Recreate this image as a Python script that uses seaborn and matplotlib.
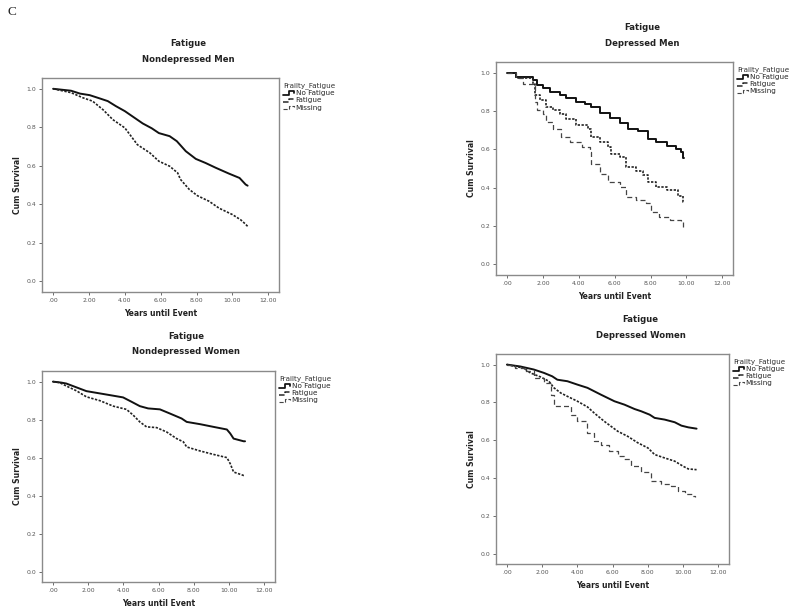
import numpy as np
import pandas as pd
import seaborn as sns
import matplotlib
matplotlib.use("Agg")
import matplotlib.pyplot as plt
from matplotlib.lines import Line2D
from matplotlib.legend_handler import HandlerLine2D

# --- data (years, cum survival) ---
groups = ["No Fatigue", "Fatigue", "Missing"]
x_ticks = [0, 2, 4, 6, 8, 10, 12]
x_tick_labels = [".00", "2.00", "4.00", "6.00", "8.00", "10.00", "12.00"]
y_ticks = [0.0, 0.2, 0.4, 0.6, 0.8, 1.0]
y_tick_labels = ["0.0", "0.2", "0.4", "0.6", "0.8", "1.0"]

# Nondepressed men
ndm_nofat_t = [0, 0.5, 1.0, 1.5, 2.04, 2.6, 3.05, 3.5, 4.0, 4.5, 5.0, 5.5, 5.9, 6.5, 6.9,
               7.4, 7.96, 8.5, 9.07, 9.8, 10.4, 10.74, 10.85]
ndm_nofat_s = [1.0, 0.995, 0.99, 0.975, 0.967, 0.95, 0.936, 0.91, 0.884, 0.852, 0.82, 0.795, 0.77,
               0.754, 0.728, 0.676, 0.636, 0.615, 0.59, 0.56, 0.537, 0.503, 0.497]
ndm_fat_t = [0, 0.5, 1.0, 1.67, 2.2, 2.8, 3.33, 4.0, 4.3, 4.7, 5.4, 5.9, 6.5, 6.95, 7.1, 7.6,
             8.05, 8.7, 9.26, 10.0, 10.46, 10.7, 10.85]
ndm_fat_s = [1.0, 0.99, 0.98, 0.953, 0.936, 0.89, 0.84, 0.797, 0.76, 0.71, 0.667, 0.624, 0.598,
             0.563, 0.53, 0.477, 0.445, 0.416, 0.38, 0.347, 0.32, 0.3, 0.286]

# Depressed men
dm_nofat_t = [0, 0.52, 1.45, 1.64, 2.0, 2.38, 2.94, 3.3, 3.87, 4.33, 4.7, 5.17, 5.72, 6.28,
              6.75, 7.3, 7.86, 8.33, 8.9, 9.44, 9.72, 9.81, 9.85]
dm_nofat_s = [1.0, 0.98, 0.96, 0.934, 0.92, 0.9, 0.882, 0.868, 0.847, 0.835, 0.82, 0.79, 0.764,
              0.738, 0.708, 0.694, 0.656, 0.638, 0.618, 0.604, 0.587, 0.556, 0.556]
dm_fat_t = [0, 0.52, 1.45, 1.54, 1.82, 2.19, 2.56, 2.94, 3.3, 3.87, 4.5, 4.7, 5.17, 5.63, 5.82,
            6.28, 6.65, 7.2, 7.58, 7.86, 8.33, 8.9, 9.54, 9.81, 9.85]
dm_fat_s = [1.0, 0.97, 0.943, 0.882, 0.856, 0.82, 0.804, 0.786, 0.76, 0.726, 0.708, 0.665, 0.64,
            0.613, 0.578, 0.56, 0.509, 0.49, 0.465, 0.43, 0.405, 0.387, 0.356, 0.327, 0.327]
dm_mis_t = [0, 0.52, 0.9, 1.45, 1.54, 1.64, 2.0, 2.19, 2.56, 3.03, 3.5, 4.15, 4.6, 4.7, 5.17,
            5.63, 6.28, 6.65, 7.2, 7.76, 8.05, 8.5, 9.07, 9.72, 9.81, 9.85]
dm_mis_s = [1.0, 0.97, 0.943, 0.934, 0.847, 0.804, 0.786, 0.743, 0.708, 0.665, 0.64, 0.613,
            0.587, 0.526, 0.474, 0.43, 0.405, 0.352, 0.335, 0.318, 0.274, 0.248, 0.231, 0.222,
            0.187, 0.187]

# Nondepressed women
ndw_nofat_t = [0, 0.47, 0.76, 1.33, 1.9, 2.66, 3.42, 3.98, 4.46, 4.93, 5.4, 6.07, 6.64, 7.3,
               7.59, 8.35, 9.1, 9.87, 10.06, 10.25, 10.82, 10.9]
ndw_nofat_s = [1.0, 0.995, 0.99, 0.97, 0.95, 0.938, 0.926, 0.917, 0.894, 0.871, 0.859, 0.854,
               0.832, 0.806, 0.788, 0.776, 0.762, 0.748, 0.727, 0.7, 0.686, 0.686]
ndw_fat_t = [0, 0.38, 0.76, 1.33, 1.9, 2.66, 3.42, 4.17, 4.55, 4.93, 5.31, 5.88, 6.45, 7.02,
             7.4, 7.59, 8.35, 9.1, 9.87, 10.06, 10.25, 10.82, 10.9]
ndw_fat_s = [1.0, 0.995, 0.977, 0.952, 0.92, 0.9, 0.871, 0.854, 0.824, 0.788, 0.762, 0.758,
             0.735, 0.7, 0.683, 0.656, 0.635, 0.617, 0.6, 0.568, 0.524, 0.506, 0.506]

# Depressed women
dw_nofat_t = [0, 0.76, 1.52, 2.1, 2.57, 2.86, 3.43, 4.0, 4.57, 5.33, 6.1, 6.67, 7.24, 7.62,
              8.1, 8.38, 8.95, 9.52, 9.9, 10.29, 10.76]
dw_nofat_s = [1.0, 0.99, 0.974, 0.956, 0.938, 0.92, 0.912, 0.894, 0.877, 0.841, 0.806, 0.788,
              0.765, 0.753, 0.735, 0.718, 0.709, 0.695, 0.677, 0.668, 0.661]
dw_fat_t = [0, 0.48, 0.95, 1.33, 1.9, 2.38, 2.67, 3.05, 3.43, 4.0, 4.57, 4.95, 5.52, 6.29,
            6.86, 7.43, 8.0, 8.38, 8.95, 9.52, 10.0, 10.29, 10.76]
dw_fat_s = [1.0, 0.99, 0.982, 0.956, 0.935, 0.912, 0.877, 0.85, 0.832, 0.806, 0.776, 0.744,
            0.7, 0.647, 0.62, 0.586, 0.559, 0.524, 0.506, 0.489, 0.462, 0.448, 0.444]
dw_mis_t = [0, 0.48, 0.95, 1.52, 2.1, 2.48, 2.67, 3.24, 3.62, 4.0, 4.57, 4.95, 5.33, 5.81,
            6.29, 6.67, 7.05, 7.62, 8.19, 8.76, 9.33, 9.71, 10.1, 10.57, 10.65]
dw_mis_s = [1.0, 0.982, 0.965, 0.93, 0.903, 0.841, 0.783, 0.78, 0.735, 0.7, 0.638, 0.594,
            0.577, 0.541, 0.515, 0.501, 0.462, 0.43, 0.383, 0.369, 0.356, 0.33, 0.316, 0.303,
            0.3]

# (subtitle, curves, which curves show coarse steps)
panels = [
    ("Nondepressed Men", {"No Fatigue": (ndm_nofat_t, ndm_nofat_s), "Fatigue": (ndm_fat_t, ndm_fat_s)}, []),
    ("Depressed Men", {"No Fatigue": (dm_nofat_t, dm_nofat_s), "Fatigue": (dm_fat_t, dm_fat_s),
                       "Missing": (dm_mis_t, dm_mis_s)}, groups),
    ("Nondepressed Women", {"No Fatigue": (ndw_nofat_t, ndw_nofat_s), "Fatigue": (ndw_fat_t, ndw_fat_s)}, []),
    ("Depressed Women", {"No Fatigue": (dw_nofat_t, dw_nofat_s), "Fatigue": (dw_fat_t, dw_fat_s),
                         "Missing": (dw_mis_t, dw_mis_s)}, ["Missing"]),
]

# axes boxes in pixels (left, top, right, bottom) on the 800x612 canvas
W, H = 800, 612
boxes = [(42, 78, 279, 292), (496, 62, 733, 275), (42, 371, 275, 582), (496, 354, 729, 564)]

palette = {"No Fatigue": "#111111", "Fatigue": "#222222", "Missing": "#444444"}
dashes = {"No Fatigue": "", "Fatigue": (1.4, 0.9), "Missing": (4.0, 2.5)}
widths = {"No Fatigue": 1.4, "Fatigue": 1.2, "Missing": 0.9}


class StepHandler(HandlerLine2D):
    # SPSS style little step glyph in the legend
    def create_artists(self, legend, orig_handle, xdescent, ydescent, width, height, fontsize, trans):
        x0 = -xdescent
        y0 = -ydescent
        xs = [x0, x0 + width * 0.45, x0 + width * 0.45, x0 + width * 0.9, x0 + width * 0.9]
        ys = [y0 + height * 0.1, y0 + height * 0.1, y0 + height * 0.75, y0 + height * 0.75, y0 + height * 0.45]
        ln = Line2D(xs, ys, color=orig_handle.get_color(), lw=orig_handle.get_linewidth(),
                    linestyle=orig_handle.get_linestyle())
        ln.set_transform(trans)
        return [ln]


sns.set_style("white")
plt.rcParams['font.family'] = ['DejaVu Sans']
fig = plt.figure(figsize=(8, 6.12), dpi=100)
fig.patch.set_facecolor("white")

for (subtitle, curves, stepped), (l, t, r, b) in zip(panels, boxes):
    ax = fig.add_axes([l / W, 1 - b / H, (r - l) / W, (b - t) / H])
    rows = []
    for g, (ts, ss) in curves.items():
        rows.append(pd.DataFrame({"years": ts, "surv": ss, "group": g}))
    df = pd.concat(rows, ignore_index=True)
    for g in curves:
        sub = df[df.group == g]
        ds = "steps-post" if g in stepped else "default"
        sns.lineplot(data=sub, x="years", y="surv", ax=ax, color=palette[g], lw=widths[g],
                     estimator=None, sort=False, drawstyle=ds,
                     dashes=False, legend=False)
        if dashes[g]:
            ax.lines[-1].set_dashes(dashes[g])
    ax.set_xlim(-0.62, 12.6)
    ax.set_ylim(-0.055, 1.056)
    ax.set_xticks(x_ticks)
    ax.set_xticklabels(x_tick_labels)
    ax.set_yticks(y_ticks)
    ax.set_yticklabels(y_tick_labels)
    ax.tick_params(axis="both", labelsize=4.4, colors="#555555", length=2.5, width=0.6,
                   direction="out", bottom=True, left=True, pad=1.5)
    ax.set_xlabel("")
    ax.set_ylabel("")
    for sp in ax.spines.values():
        sp.set_color("#8a8a8a")
        sp.set_linewidth(1.0)

    # legend with all three levels, as SPSS always lists them
    handles = []
    for g in groups:
        h = Line2D([], [], color=palette[g], lw=widths[g] * 0.9)
        if dashes[g]:
            h.set_dashes(dashes[g])
        handles.append(h)
    leg = ax.legend(handles, groups, title="Frailty_Fatigue", loc="upper left",
                    bbox_to_anchor=(1.0, 1.0), frameon=False, fontsize=5.2,
                    title_fontsize=5.2, handlelength=1.6, handletextpad=0.1,
                    labelspacing=0.15, borderaxespad=0.3, borderpad=0.3,
                    alignment="left", handler_map={Line2D: StepHandler()})
    leg.get_title().set_color("#333333")

    cx = (l + r) / 2
    fig.text((cx + 28) / W, 1 - (t - 35) / H, "Fatigue", ha="center", va="center",
             fontsize=6.1, fontweight="bold", color="#222222")
    fig.text((cx + 28) / W, 1 - (t - 19) / H, subtitle, ha="center", va="center",
             fontsize=6.1, fontweight="bold", color="#222222")
    fig.text(cx / W, 1 - (b + 21) / H, "Years until Event", ha="center", va="center",
             fontsize=5.5, fontweight="bold", color="#222222")
    fig.text((l - 24) / W, 1 - ((t + b) / 2) / H, "Cum Survival", ha="center", va="center",
             rotation=90, fontsize=5.6, fontweight="bold", color="#222222")

fig.text(8 / W, 1 - 12 / H, "C", ha="left", va="center", fontsize=9.5,
         family=["Liberation Serif", "DejaVu Serif"], color="#222222")

fig.savefig("out.png", dpi=100, facecolor="white")
